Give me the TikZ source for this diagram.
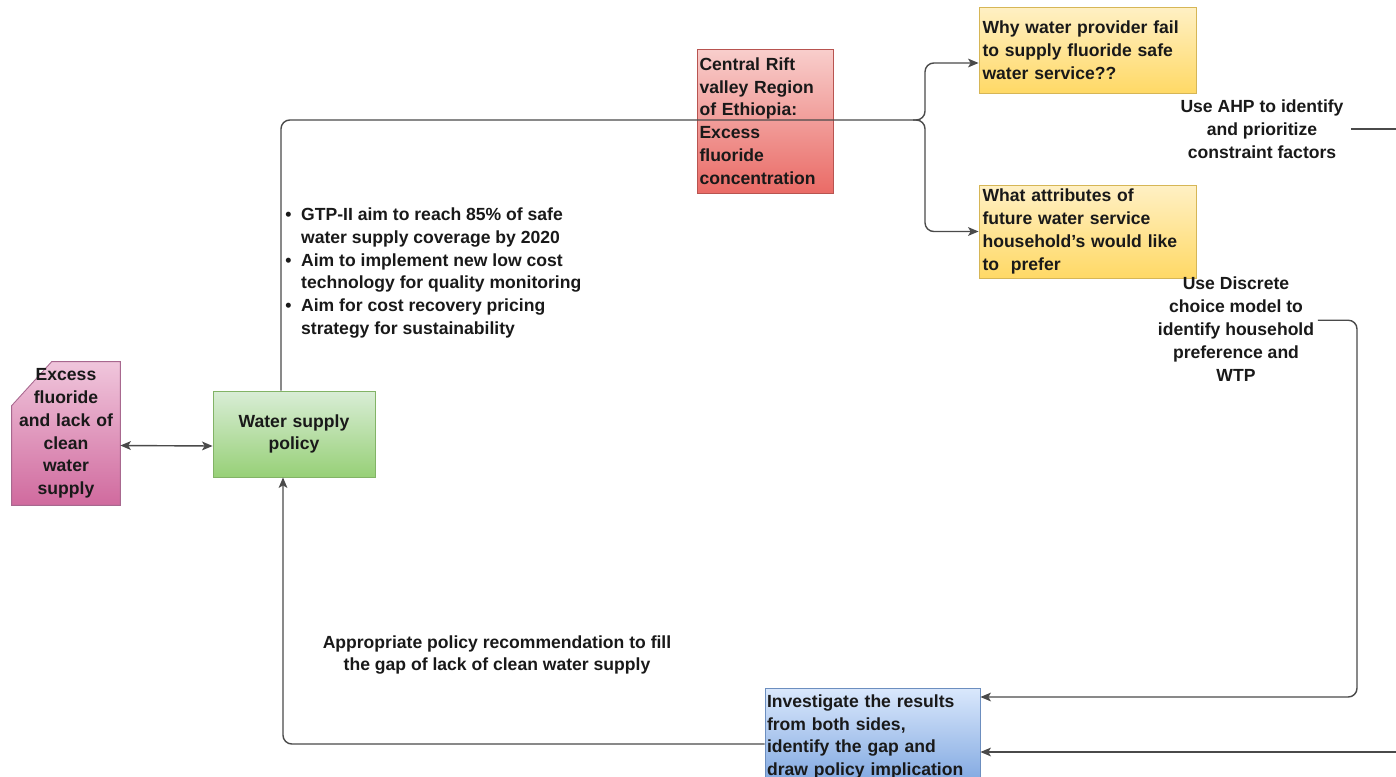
\documentclass[tikz,border=0pt]{standalone}
\usepackage{fontspec}
\setmainfont{Liberation Sans}
\usetikzlibrary{arrows, arrows.meta, positioning, calc, backgrounds}

\definecolor{pinktop}{HTML}{F0C6DC}
\definecolor{pinkbot}{HTML}{D06A9E}
\definecolor{pinkline}{HTML}{A8688F}
\definecolor{greentop}{HTML}{D9EDD6}
\definecolor{greenbot}{HTML}{97D077}
\definecolor{greenline}{HTML}{82B366}
\definecolor{redtop}{HTML}{F8CECC}
\definecolor{redbot}{HTML}{EA6B66}
\definecolor{redline}{HTML}{B85450}
\definecolor{yellowtop}{HTML}{FFF0C4}
\definecolor{yellowbot}{HTML}{FFD966}
\definecolor{yellowline}{HTML}{D6B656}
\definecolor{bluetop}{HTML}{DAE8FC}
\definecolor{bluebot}{HTML}{7EA6E0}
\definecolor{blueline}{HTML}{6C8EBF}
\definecolor{linegray}{HTML}{4A4A4A}

\begin{document}
\begin{tikzpicture}[
    x=0.02cm, y=-0.02cm, % one unit is one pixel of the sketch, y runs downwards
    >={Stealth[length=6pt, width=5pt, inset=1.5pt]},
    every node/.style={font={\fontsize{10}{13}\selectfont\bfseries}, text=black!90, inner sep=2pt},
    box/.style={rectangle, align=left, line width=0.5pt},
    note/.style={align=center}, % free labels beside the connectors
    link/.style={draw=linegray, line width=0.8pt, rounded corners=5pt},
  ]
  \useasboundingbox (0,0) rectangle (1396,777);

  % boxes
  \node[align=center, minimum width=2.16cm, minimum height=2.86cm, text width=1.98cm] (cause) at (66,433.5) {%
    Excess\\fluoride\\and lack of\\clean\\water\\supply};
  \node[box, align=center, draw=greenline, top color=greentop, bottom color=greenbot,
        minimum width=3.24cm, minimum height=1.72cm, text width=3.05cm] (policy) at (294,434) {%
    Water supply\\policy};
  \node[box, draw=redline, top color=redtop, bottom color=redbot, inner sep=1pt,
        minimum width=2.72cm, minimum height=2.88cm, text width=2.62cm] (region) at (765,121) {%
    Central Rift\\valley Region\\of Ethiopia:\\Excess\\fluoride\\concentration};
  \node[box, draw=yellowline, top color=yellowtop, bottom color=yellowbot,
        minimum width=4.3cm, minimum height=1.72cm, text width=4.2cm] (why) at (1087.5,50) {%
    Why water provider fail\\to supply fluoride safe\\water service??};
  \node[box, draw=yellowline, top color=yellowtop, bottom color=yellowbot,
        minimum width=4.3cm, minimum height=1.86cm, text width=4.2cm] (attr) at (1087.5,231.5) {%
    What attributes of\\future water service\\household's would like\\to\ \ prefer};
  \node[box, draw=blueline, top color=bluetop, bottom color=bluebot, inner sep=1pt,
        minimum width=4.3cm, minimum height=1.96cm, text width=4.22cm] (invest) at (872.5,737) {%
    Investigate the results\\from both sides,\\identify the gap and\\draw policy implication};

  % chamfered card behind the first box
  \begin{scope}[on background layer]
    \shade[draw=pinkline, line width=0.5pt, top color=pinktop, bottom color=pinkbot]
      ($(cause.north west)+(40,0)$) -- (cause.north east) -- (cause.south east)
      -- (cause.south west) -- ($(cause.north west)+(0,44)$) -- cycle;
  \end{scope}

  % labels
  \node[anchor=north west, inner sep=0pt] (goals) at (285,204) {%
    \begin{tabular}{@{}l@{\hspace{5.5pt}}l@{}}
      \textbullet & GTP-II aim to reach 85\% of safe\\
                  & water supply coverage by 2020\\
      \textbullet & Aim to implement new low cost\\
                  & technology for quality monitoring\\
      \textbullet & Aim for cost recovery pricing\\
                  & strategy for sustainability
    \end{tabular}};
  \node[note] (ahp) at (1262,129) {Use AHP to identify\\and prioritize\\constraint factors};
  \node[note] (dce) at (1236,329) {Use Discrete\\choice model to\\identify household\\preference and\\WTP};
  \node[note] (rec) at (497,655) {Appropriate policy recommendation to fill\\the gap of lack of clean water supply};

  % connectors
  \coordinate (split) at (925,120);
  \coordinate (ahpout) at (1396,129);
  \coordinate (bend) at (1357,697);
  \coordinate (ahpin) at (1396,752);

  \draw[link, <->] ($(cause.east)+(0,12)$) -- ($(policy.west)+(0,12)$);
  \draw[link, ->] ($(policy.north)+(-13,0)$) |- (split) |- ($(why.west)+(0,13)$);
  \draw[link, ->] ($(split)+(-12,0)$) -| (split |- attr.west) -- (attr.west);
  \draw[link] ([xshift=2pt]ahp.east) -- (ahpout);
  \draw[link, ->] ([yshift=5pt]dce.east) -| (bend) -- ($(invest.east)+(0,-40)$);
  \draw[link, ->] (ahpin) -- ($(invest.east)+(0,15)$);
  \draw[link, ->] ($(invest.west)+(0,7)$) -| ($(policy.south)+(-11,0)$);

\end{tikzpicture}
\end{document}
